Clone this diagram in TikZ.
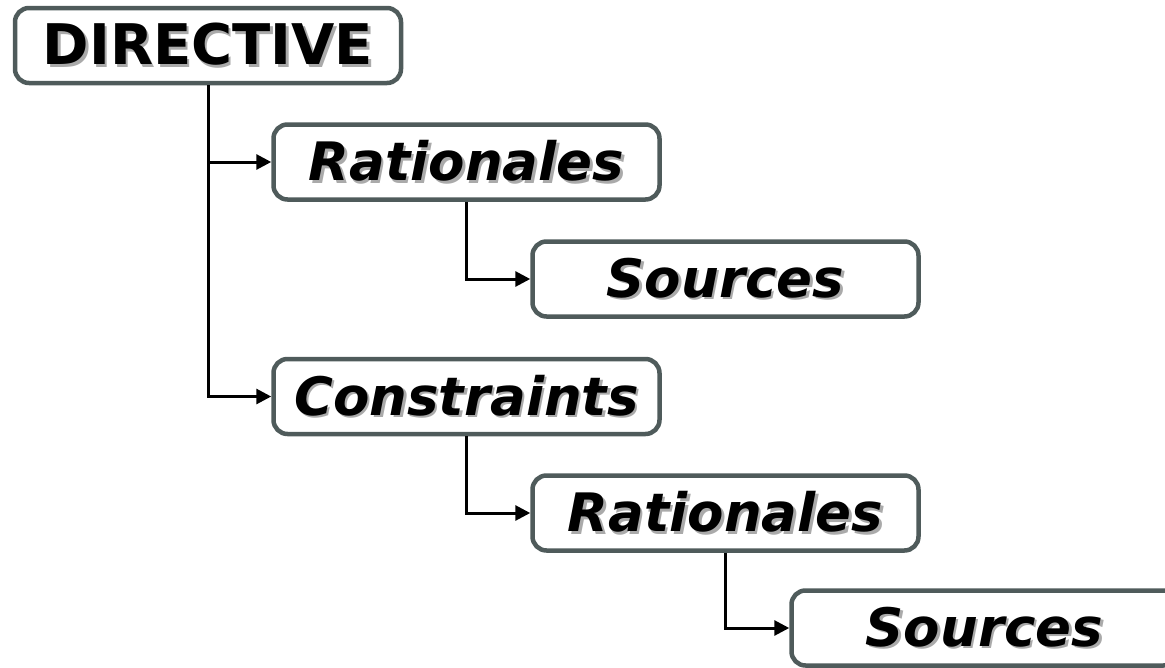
\documentclass[tikz,border=0pt]{standalone}
\usepackage{fontspec}
\setmainfont{DejaVu Sans}
\usetikzlibrary{arrows.meta}
\definecolor{boxgray}{HTML}{4F5B5B}
\definecolor{shade}{HTML}{AAAAAA}
\newcommand\shadowtext[1]{\leavevmode\rlap{\kern2.5pt\raisebox{-2.5pt}{\color{shade}#1}}#1}
\tikzset{
  box/.style={draw=boxgray, line width=4.5pt, rounded corners=14pt, fill=white,
    minimum width=386pt, minimum height=75pt, inner sep=0pt, align=center,
    font=\fontsize{53}{60}\selectfont\bfseries\itshape},
  topbox/.style={box, font=\fontsize{56}{62}\selectfont\bfseries},
  link/.style={draw=black, line width=3pt, -{Triangle[length=15pt,width=15pt]}}
}
\begin{document}
\begin{tikzpicture}[x=1pt,y=-1pt]
\useasboundingbox (0,0) rectangle (1165,667);
\clip (0,0) rectangle (1165,667);
\node[topbox] (dir) at (208,45.5) {\shadowtext{DIRECTIVE}};
\node[box] (rat1) at (466.5,162) {\shadowtext{Rationales}};
\node[box] (src1) at (725.5,279) {\shadowtext{Sources}};
\node[box] (con) at (466.5,396.5) {\shadowtext{Constraints}};
\node[box] (rat2) at (725.5,513) {\shadowtext{Rationales}};
\node[box] (src2) at (984.5,628) {\shadowtext{Sources}};
\draw[link] (dir.south) |- (rat1.west);
\draw[link] (dir.south) |- (con.west);
\draw[link] (rat1.south) |- (src1.west);
\draw[link] (con.south) |- (rat2.west);
\draw[link] (rat2.south) |- (src2.west);
\end{tikzpicture}
\end{document}
